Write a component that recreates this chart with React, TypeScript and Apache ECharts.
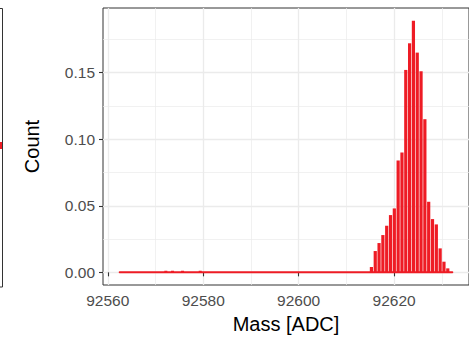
import React, { useEffect, useRef } from "react";
import * as echarts from "echarts";

// Histogram bins (mass in ADC) and their proportions
const massBins = [
  92615.6, 92616.4, 92617.2, 92618.0, 92618.8, 92619.6, 92620.4, 92621.2, 92622.0,
  92622.8, 92623.6, 92624.4, 92625.2, 92626.0, 92626.8, 92627.6, 92628.4, 92629.2,
  92630.0, 92630.8, 92631.6,
];
const proportion = [
  0.004, 0.016, 0.022, 0.028, 0.035, 0.043, 0.048, 0.084, 0.09, 0.152, 0.172, 0.189,
  0.165, 0.151, 0.115, 0.053, 0.04, 0.036, 0.018, 0.008, 0.003,
];
// sparse low-mass counts
const outlierMass = [92571.8, 92573.2, 92575.3, 92579.0];
const outlierProportion = [0.0012, 0.0012, 0.0012, 0.0012];
// extent of the zero baseline of the histogram
const baselineMass = [92562.5, 92632.2];

const xTicks = [92560, 92580, 92600, 92620];
const xMinorTicks = [92570, 92590, 92610, 92630];
const yTicks = [0, 0.05, 0.1, 0.15];
const yMinorTicks = [0.025, 0.075, 0.125, 0.175];

const X_MIN = 92559.0;
const X_MAX = 92635.7;
const Y_MIN = -0.0095;
const Y_MAX = 0.1985;

const RED = "#EE1C25";
const FONT = "'Liberation Sans', Arial, sans-serif";

export default function App() {
  const ref = useRef<HTMLDivElement>(null);
  useEffect(() => {
    if (!ref.current) return;
    const chart = echarts.init(ref.current, null, { renderer: "svg" });
    const barData = massBins.map((m, i) => [m, proportion[i]]);
    const outlierData = outlierMass.map((m, i) => [m, outlierProportion[i]]);
    const baseline = baselineMass.map((m) => [m, 0]);
    const gridColor = "#EBEBEB";
    chart.setOption({
      animation: false,
      backgroundColor: "#ffffff",
      grid: {
        left: 103,
        top: 8,
        width: 372,
        height: 279,
        show: true,
        borderColor: "#333333",
        borderWidth: 1,
        backgroundColor: "transparent",
      },
      xAxis: [
        {
          type: "value",
          min: X_MIN,
          max: X_MAX,
          position: "bottom",
          name: "Mass [ADC]",
          nameLocation: "middle",
          nameGap: 29,
          nameTextStyle: { fontFamily: FONT, fontSize: 20, color: "#000" },
          axisLine: { show: false },
          axisTick: { show: true, length: 4, customValues: xTicks, lineStyle: { color: "#333333", width: 1.1 } },
          axisLabel: {
            customValues: xTicks,
            margin: 7,
            fontFamily: FONT,
            fontSize: 15.5,
            color: "#4D4D4D",
            formatter: (v: number) => String(Math.round(v)),
          },
          splitLine: { show: true, lineStyle: { color: gridColor, width: 1.3 } },
        },
        {
          type: "value",
          min: X_MIN,
          max: X_MAX,
          position: "bottom",
          axisLine: { show: false },
          axisTick: { show: false, customValues: xMinorTicks },
          axisLabel: { show: false, customValues: xMinorTicks },
          splitLine: { show: true, lineStyle: { color: gridColor, width: 0.7 } },
        },
      ],
      yAxis: [
        {
          type: "value",
          min: Y_MIN,
          max: Y_MAX,
          name: "Count",
          nameLocation: "middle",
          nameRotate: 90,
          nameGap: 61,
          nameTextStyle: { fontFamily: FONT, fontSize: 20, color: "#000" },
          axisLine: { show: false },
          axisTick: { show: true, length: 4, customValues: yTicks, lineStyle: { color: "#333333", width: 1.1 } },
          axisLabel: {
            customValues: yTicks,
            margin: 8,
            fontFamily: FONT,
            fontSize: 15.5,
            color: "#4D4D4D",
            formatter: (v: number) => v.toFixed(2),
          },
          splitLine: { show: true, lineStyle: { color: gridColor, width: 1.3 } },
        },
        {
          type: "value",
          min: Y_MIN,
          max: Y_MAX,
          axisLine: { show: false },
          axisTick: { show: false, customValues: yMinorTicks },
          axisLabel: { show: false, customValues: yMinorTicks },
          splitLine: { show: true, lineStyle: { color: gridColor, width: 0.7 } },
        },
      ],
      series: [
        {
          type: "line",
          xAxisIndex: 0,
          yAxisIndex: 0,
          data: baseline,
          symbol: "none",
          lineStyle: { color: RED, width: 2, cap: "round" },
          z: 3,
        },
        {
          type: "bar",
          xAxisIndex: 0,
          yAxisIndex: 0,
          data: barData,
          barWidth: 3.2,
          itemStyle: { color: RED },
          z: 4,
        },
        {
          type: "bar",
          xAxisIndex: 0,
          yAxisIndex: 0,
          data: outlierData,
          barWidth: 3,
          itemStyle: { color: RED },
          z: 4,
        },
      ],
      graphic: [
        {
          type: "rect",
          shape: { x: -60, y: 8.5, width: 62.5, height: 278.5 },
          style: { fill: "none", stroke: "#333333", lineWidth: 1 },
          silent: true,
        },
        {
          type: "rect",
          shape: { x: 0, y: 142, width: 2, height: 7 },
          style: { fill: RED },
          silent: true,
        },
      ],
    });
    return () => chart.dispose();
  }, []);
  return (
    <div
      ref={ref}
      style={{ position: "fixed", left: 0, top: 0, width: 469, height: 339 }}
    />
  );
}
